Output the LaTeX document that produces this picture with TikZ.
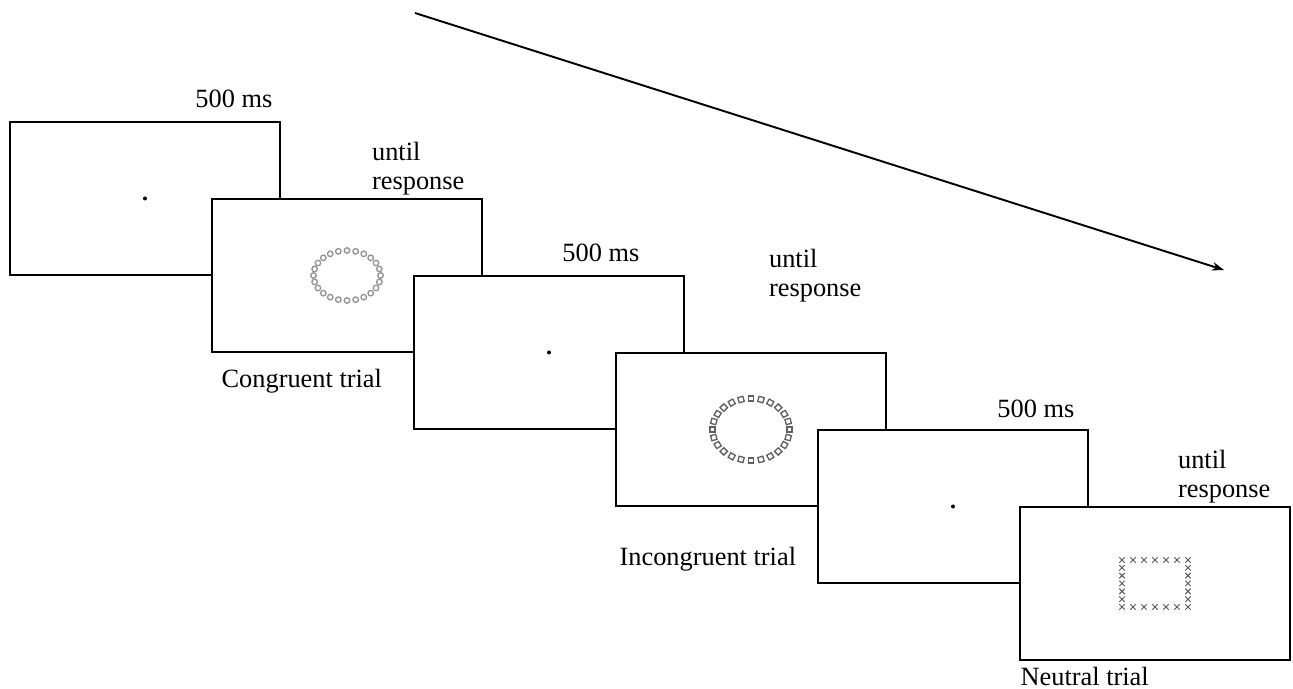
\documentclass[tikz,border=0pt]{standalone}
\usepackage{fontspec}
\setmainfont{Liberation Serif}
\usepackage{tikz}
\usetikzlibrary{arrows.meta,positioning,calc,shapes.misc}

\begin{document}
\begin{tikzpicture}[
    screen/.style={rectangle, draw, line width=0.8pt, fill=white, minimum width=5.40cm, minimum height=3.06cm, inner sep=0pt},
    lbl/.style={font=\fontsize{15}{16.5}\selectfont, inner sep=0pt, align=left},
    ringc/.style={draw=gray!85, line width=0.75pt},
    sqr/.style={rectangle, draw=gray!75!black, line width=0.75pt, minimum size=0.105cm, inner sep=0pt},
    xm/.style={cross out, draw=gray!70!black, line width=0.55pt, minimum size=0.09cm, inner sep=0pt},
    fixdot/.style={circle, fill=black, minimum size=0.08cm, inner sep=0pt},
    arrow/.style={-{Stealth[length=0.24cm, width=0.17cm]}, line width=1.1pt}
]
\useasboundingbox (0,0) rectangle (25.86,-13.78);

% screens, each one shifted down and to the right
\node[screen] (fix1) at (2.90,-3.97) {};
\node[screen] (cong) at ($(fix1)+(4.04,-1.54)$) {};
\node[screen] (fix2) at ($(cong)+(4.04,-1.54)$) {};
\node[screen] (incong) at ($(fix2)+(4.04,-1.54)$) {};
\node[screen] (fix3) at ($(incong)+(4.04,-1.54)$) {};
\node[screen] (neut) at ($(fix3)+(4.04,-1.54)$) {};

% fixation points
\node[fixdot] at (fix1) {};
\node[fixdot] at (fix2) {};
\node[fixdot] at (fix3) {};

% stimuli
\foreach \a in {0,15,...,345}
    \draw[ringc] ($(cong)+(\a:0.67 and 0.50)$) circle (0.055);
\foreach \a in {0,15,...,345}
    \node[sqr, rotate=\a] at ($(incong)+(\a:0.77 and 0.62)$) {};
\foreach \i in {-3,...,3} {
    \node[xm] at ($(neut)+(0.22*\i,0.47)$) {};
    \node[xm] at ($(neut)+(0.22*\i,-0.47)$) {};
}
\foreach \j in {-2,...,2} {
    \node[xm] at ($(neut)+(-0.66,0.157*\j)$) {};
    \node[xm] at ($(neut)+(0.66,0.157*\j)$) {};
}

% durations
\node[lbl, anchor=base east] (d1) at ($(fix1.north east)+(-0.16,0.28)$) {500 ms};
\node[lbl, anchor=south east] (d2) at ($(cong.north east)+(-0.36,0.06)$) {until\\response};
\node[lbl, anchor=base east] (d3) at ($(fix2.north east)+(-0.90,0.28)$) {500 ms};
\node[lbl, anchor=south east] (d4) at ($(incong.north east)+(-0.50,1.00)$) {until\\response};
\node[lbl, anchor=base east] (d5) at ($(fix3.north east)+(-0.28,0.24)$) {500 ms};
\node[lbl, anchor=south east] (d6) at ($(neut.north east)+(-0.40,0.06)$) {until\\response};

% trial names
\node[lbl, anchor=base west] (n1) at ($(cong.south west)+(0.20,-0.70)$) {Congruent trial};
\node[lbl, anchor=base west] (n2) at ($(incong.south west)+(0.08,-1.18)$) {Incongruent trial};
\node[lbl, anchor=base west] (n3) at ($(neut.south west)+(0.02,-0.50)$) {Neutral trial};

% time axis
\coordinate (tstart) at (8.30,-0.26);
\coordinate (tend) at (24.48,-5.40);
\draw[arrow] (tstart) -- (tend);
\end{tikzpicture}
\end{document}
